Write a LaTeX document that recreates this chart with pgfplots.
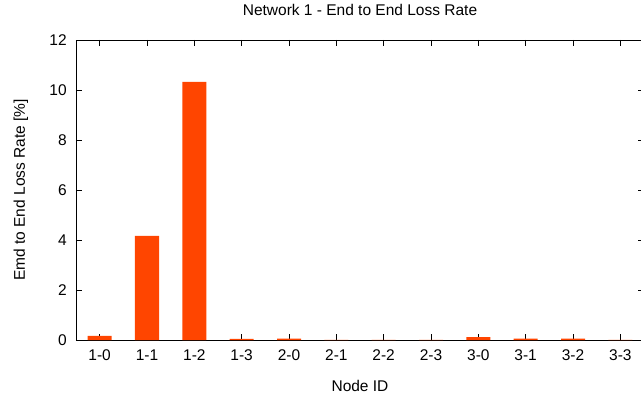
\documentclass[border=0pt]{standalone}
\usepackage{fontspec}
\setmainfont{Liberation Sans}
\usepackage{pgfplots}
\pgfplotsset{compat=1.18}
\definecolor{barred}{HTML}{FF4500}
\begin{document}
\fontsize{15.5bp}{18bp}\selectfont
\begin{tikzpicture}
\begin{axis}[
  name=ax,
  scale only axis,
  width=568bp, height=300bp,
  xmin=-0.5, xmax=11.5,
  ymin=0, ymax=12,
  xtick={0,...,11},
  xticklabels={1-0,1-1,1-2,1-3,2-0,2-1,2-2,2-3,3-0,3-1,3-2,3-3},
  ytick={0,2,...,12},
  tick align=inside,
  major tick length=6bp,
  axis line style={line width=0.9bp},
  every tick/.style={black, line width=0.8bp},
  /pgf/number format/assume math mode=true,
  tick label style={font=\fontsize{15.5bp}{18bp}\selectfont},
  xticklabel style={anchor=base, yshift=-20bp},
  yticklabel style={xshift=-4bp},
  title={Network 1 - End to End Loss Rate},
  title style={at={(axis description cs:0.5,1.0617)}, anchor=base},
  xlabel={Node ID},
  xlabel style={at={(axis description cs:0.5,-0.1717)}, anchor=base},
  ylabel={Emd to End Loss Rate [\%]},
  ylabel style={at={(axis description cs:-0.0898,0.5)}, anchor=base},
]
% loss rate per node, in percent
\addplot[ybar, bar width=24bp, fill=barred, draw=none] coordinates {
  (0,0.17) (1,4.16) (2,10.32) (3,0.05)
  (4,0.06) (5,0.01) (6,0.01) (7,0.01)
  (8,0.12) (9,0.06) (10,0.06) (11,0.01)
};
\end{axis}
\pgfresetboundingbox
\useasboundingbox ([xshift=-76bp,yshift=-54bp]ax.south west) rectangle ([xshift=565bp,yshift=40bp]ax.north west);
\end{tikzpicture}
\end{document}
